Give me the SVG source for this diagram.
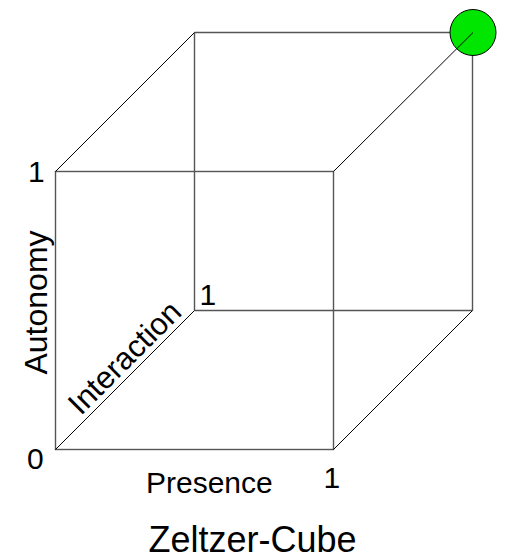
<svg xmlns="http://www.w3.org/2000/svg" width="506" height="559" viewBox="0 0 506 559">
<style>
.edge{stroke:#555;stroke-width:1.4;fill:none}
.diag{stroke:#000;stroke-width:1;fill:none}
.lbl{font-family:"Liberation Sans",Arial,sans-serif;fill:#000}
</style>
<rect width="506" height="559" fill="#fff"/>
<g id="connectors">
  <g id="back-face">
    <line class="edge" x1="194.5" y1="32.5" x2="472.5" y2="32.5"/>
    <line class="edge" x1="194.5" y1="32.5" x2="194.5" y2="310.5"/>
    <line class="edge" x1="194.5" y1="310.5" x2="472.5" y2="310.5"/>
    <line class="edge" x1="472.5" y1="32.5" x2="472.5" y2="310.5"/>
  </g>
  <g id="front-face">
    <rect class="edge" x="55.5" y="171.5" width="278" height="278"/>
  </g>
  <g id="depth-edges">
    <line class="diag" x1="55.5" y1="171.5" x2="194.5" y2="32.5"/>
    <line class="diag" x1="55.5" y1="449.5" x2="194.5" y2="310.5"/>
    <line class="diag" x1="333.5" y1="449.5" x2="472.5" y2="310.5"/>
  </g>
</g>
<g id="node-target">
  <circle cx="473" cy="32.5" r="23" fill="#00e600" stroke="#000" stroke-width="1"/>
  <line class="diag" x1="333.5" y1="171.5" x2="473" y2="32.5"/>
</g>
<g id="labels">
  <text class="lbl" x="28" y="182" font-size="30">1</text>
  <text class="lbl" x="27" y="469" font-size="30">0</text>
  <text class="lbl" x="199.5" y="305" font-size="30">1</text>
  <text class="lbl" x="323.5" y="488" font-size="30">1</text>
  <text class="lbl" x="146" y="493" font-size="30">Presence</text>
  <text class="lbl" font-size="32" text-anchor="middle" transform="translate(47,302.5) rotate(-90)">Autonomy</text>
  <text class="lbl" font-size="31" text-anchor="middle" transform="translate(132,365) rotate(-45)">Interaction</text>
  <text class="lbl" x="252.5" y="552" font-size="36" text-anchor="middle">Zeltzer-Cube</text>
</g>
</svg>
